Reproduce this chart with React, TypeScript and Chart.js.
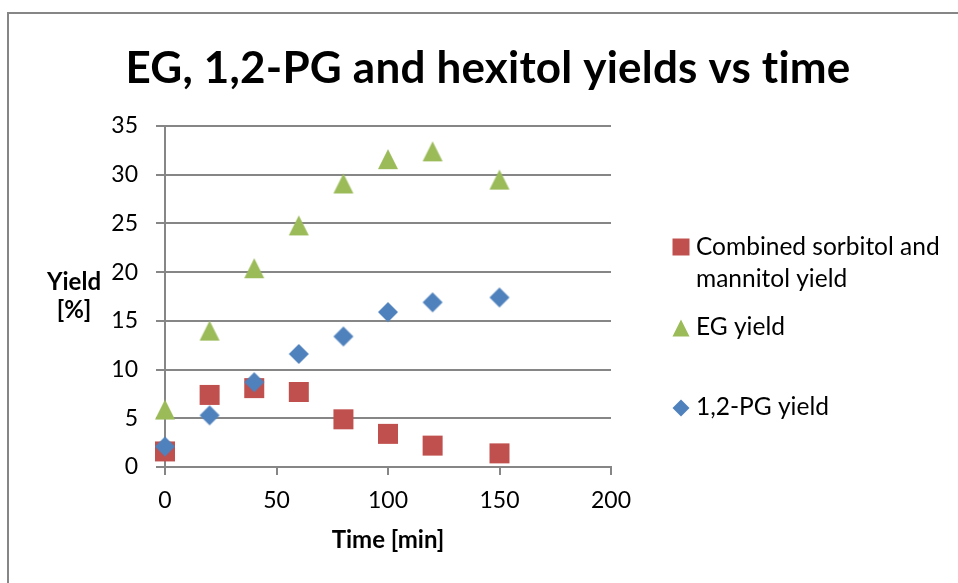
import React, { useEffect, useRef } from "react";
import { Chart, registerables } from "chart.js";

Chart.register(...registerables);

// Reaction time in minutes
const timeMin = [0, 20, 40, 60, 80, 100, 120, 150];
// Yields in percent
const hexitolYield = [1.6, 7.4, 8.1, 7.7, 4.9, 3.4, 2.2, 1.4];
const egYield = [5.9, 14.0, 20.4, 24.8, 29.1, 31.6, 32.4, 29.5];
const pgYield = [2.1, 5.3, 8.7, 11.6, 13.4, 15.9, 16.9, 17.4];

const chartTitle = "EG, 1,2-PG and hexitol yields vs time";
const xTitle = "Time [min]";
const yTitleLines = ["Yield", "[%]"];
const legendLines = [["Combined sorbitol and", "mannitol yield"], ["EG yield"], ["1,2-PG yield"]];

const X_MIN = 0;
const X_MAX = 200;
const X_STEP = 50;
const Y_MIN = 0;
const Y_MAX = 35;
const Y_STEP = 5;

const RED = "#C0504D";
const GREEN = "#9BBB59";
const BLUE = "#4F81BD";
const GRID = "#868686";
const FONT = "Lato, 'Open Sans', sans-serif";

type Shape = "square" | "triangle" | "diamond";

function traceMarker(ctx: CanvasRenderingContext2D, shape: Shape, cx: number, cy: number, size: number) {
  const h = size / 2;
  ctx.beginPath();
  if (shape === "square") {
    ctx.rect(cx - h, cy - h, size, size);
  } else if (shape === "triangle") {
    ctx.moveTo(cx, cy - h);
    ctx.lineTo(cx + h, cy + h);
    ctx.lineTo(cx - h, cy + h);
    ctx.closePath();
  } else {
    ctx.moveTo(cx, cy - h);
    ctx.lineTo(cx + h, cy);
    ctx.lineTo(cx, cy + h);
    ctx.lineTo(cx - h, cy);
    ctx.closePath();
  }
}

function markerImage(shape: Shape, size: number, color: string): HTMLCanvasElement {
  const c = document.createElement("canvas");
  c.width = size + 2;
  c.height = size + 2;
  const ctx = c.getContext("2d")!;
  traceMarker(ctx, shape, c.width / 2, c.height / 2, size);
  ctx.fillStyle = color;
  ctx.fill();
  return c;
}

const toPoints = (ys: number[]) => timeMin.map((x, i) => ({ x, y: ys[i] }));

const legendItems: { shape: Shape; color: string; lines: string[]; cy: number; baselines: number[] }[] = [
  { shape: "square", color: RED, lines: legendLines[0], cy: 247, baselines: [255, 287] },
  { shape: "triangle", color: GREEN, lines: legendLines[1], cy: 328, baselines: [335] },
  { shape: "diamond", color: BLUE, lines: legendLines[2], cy: 408, baselines: [415] },
];

const decorations = {
  id: "decorations",
  beforeDraw(chart: Chart) {
    const ctx = chart.ctx;
    ctx.save();
    ctx.fillStyle = "#ffffff";
    ctx.fillRect(0, 0, chart.width, chart.height);
    ctx.strokeStyle = GRID;
    ctx.lineWidth = 2;
    ctx.strokeRect(8, 13, chart.width + 20, chart.height + 20);
    ctx.restore();
  },
  afterDraw(chart: Chart) {
    const ctx = chart.ctx as CanvasRenderingContext2D & { letterSpacing?: string };
    ctx.save();
    ctx.fillStyle = "#000000";
    // chart title (a tiny letter spacing keeps "ti" as two separate glyphs)
    ctx.font = `bold 44px ${FONT}`;
    ctx.letterSpacing = "0.2px";
    ctx.textAlign = "center";
    ctx.textBaseline = "alphabetic";
    ctx.fillText(chartTitle, 488, 83);
    ctx.letterSpacing = "0px";
    // y axis title, horizontal on two lines
    ctx.font = `bold 24px ${FONT}`;
    ctx.fillText(yTitleLines[0], 74, 290);
    ctx.fillText(yTitleLines[1], 74, 318);
    // legend
    ctx.textAlign = "left";
    ctx.font = `24.5px ${FONT}`;
    for (const item of legendItems) {
      traceMarker(ctx, item.shape, 681, item.cy, 17);
      ctx.fillStyle = item.color;
      ctx.fill();
      ctx.fillStyle = "#000000";
      item.lines.forEach((line, i) => ctx.fillText(line, 696, item.baselines[i]));
    }
    ctx.restore();
  },
};

export default function App() {
  const canvasRef = useRef<HTMLCanvasElement | null>(null);

  useEffect(() => {
    const canvas = canvasRef.current;
    if (!canvas) return;
    const chart = new Chart(canvas, {
      type: "scatter",
      data: {
        datasets: [
          {
            label: "1,2-PG yield",
            data: toPoints(pgYield),
            pointStyle: markerImage("diamond", 20, BLUE),
            pointRadius: 10,
            backgroundColor: BLUE,
            borderColor: BLUE,
            showLine: false,
            clip: false,
          },
          {
            label: "EG yield",
            data: toPoints(egYield),
            pointStyle: markerImage("triangle", 20, GREEN),
            pointRadius: 10,
            backgroundColor: GREEN,
            borderColor: GREEN,
            showLine: false,
            clip: false,
          },
          {
            label: "Combined sorbitol and mannitol yield",
            data: toPoints(hexitolYield),
            pointStyle: markerImage("square", 20, RED),
            pointRadius: 10,
            backgroundColor: RED,
            borderColor: RED,
            showLine: false,
            clip: false,
          },
        ],
      },
      options: {
        animation: false,
        responsive: false,
        events: [],
        layout: { padding: { top: 126, right: 347, bottom: 0, left: 0 } },
        plugins: {
          legend: { display: false },
          title: { display: false },
          tooltip: { enabled: false },
        },
        scales: {
          x: {
            type: "linear",
            min: X_MIN,
            max: X_MAX,
            afterFit: (scale: any) => {
              scale.height = 116;
            },
            ticks: {
              stepSize: X_STEP,
              color: "#000000",
              padding: 12,
              font: { family: FONT, size: 23 },
            },
            grid: {
              drawOnChartArea: false,
              drawTicks: true,
              tickLength: 8,
              color: GRID,
              lineWidth: 2,
            },
            border: { display: true, color: GRID, width: 2 },
            title: {
              display: true,
              text: xTitle,
              color: "#000000",
              font: { family: FONT, size: 24, weight: "bold" },
              padding: { top: 0, bottom: 28 },
            },
          },
          y: {
            type: "linear",
            min: Y_MIN,
            max: Y_MAX,
            afterFit: (scale: any) => {
              scale.width = 165;
            },
            ticks: {
              stepSize: Y_STEP,
              color: "#000000",
              padding: 18,
              font: { family: FONT, size: 23 },
            },
            grid: {
              drawTicks: true,
              tickLength: 9,
              color: GRID,
              lineWidth: 2,
            },
            border: { display: true, color: GRID, width: 2 },
          },
        },
      },
      plugins: [decorations],
    });
    return () => chart.destroy();
  }, []);

  return (
    <div style={{ position: "fixed", left: 0, top: 0, width: 958, height: 583, background: "#ffffff" }}>
      <canvas ref={canvasRef} width={958} height={583} style={{ display: "block" }} />
    </div>
  );
}
